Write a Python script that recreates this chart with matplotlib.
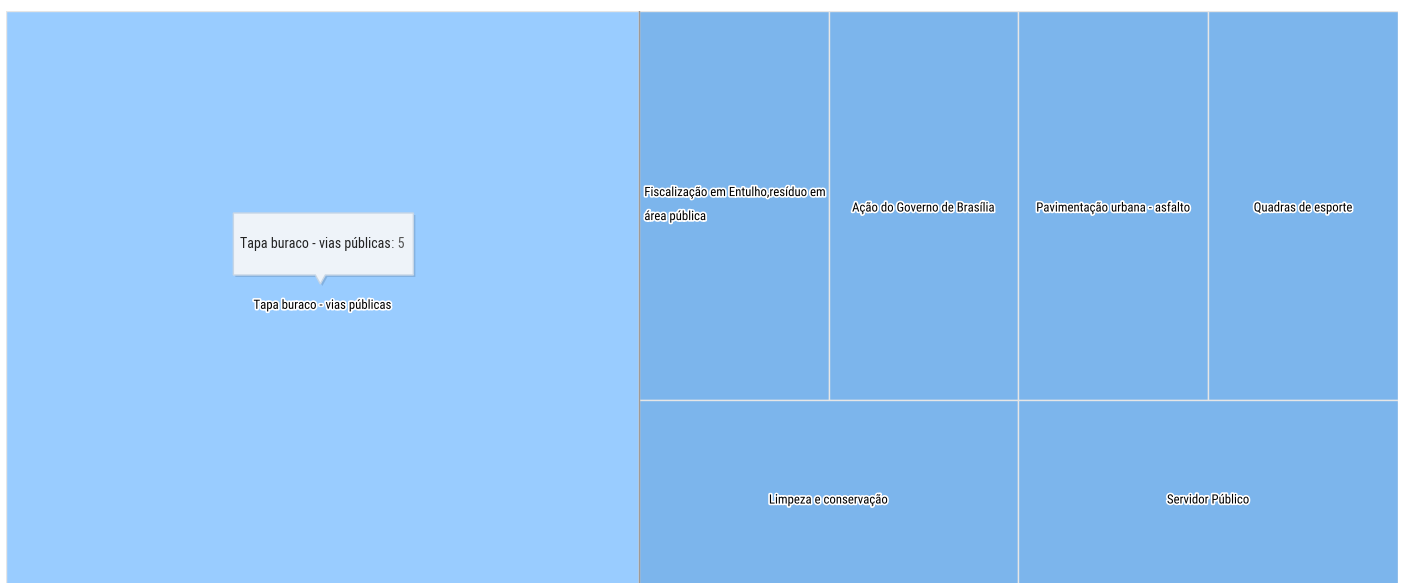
import matplotlib
matplotlib.use("Agg")
import matplotlib.pyplot as plt
import matplotlib.patheffects as pe
from matplotlib.patches import Rectangle, Polygon
from matplotlib.font_manager import fontManager, FontProperties

# data
names = [
    "Tapa buraco - vias públicas",
    "Fiscalização em Entulho,resíduo em\nárea pública",
    "Ação do Governo de Brasília",
    "Pavimentação urbana - asfalto",
    "Quadras de esporte",
    "Limpeza e conservação",
    "Servidor Público",
]
values = [5, 1, 1, 1, 1, 1, 1]
hovered = 0

# strips of the layout: which items, and whether the strip is a column or a row
groups = [([0], "col"), ([1, 2, 3, 4], "row"), ([5, 6], "row")]

base_color = "#7cb5ec"
hover_color = "#99ccff"

# the chart uses a narrow font; look for a condensed face
prefs = ["LiberationSansNarrow-Regular", "RobotoCondensed-Regular", "Roboto_Condensed-Regular",
         "DejaVuSansCondensed.ttf", "OpenSans_Condensed-Regular", "OpenSansCondensed"]
font_file = None
files = [f.fname for f in fontManager.ttflist]
for p in prefs:
    hits = [f for f in files if p.lower() in f.lower().replace(" ", "")]
    if hits:
        font_file = sorted(hits, key=len)[0]
        break
if font_file is None:
    hits = [f for f in files if ("condensed" in f.lower() or "narrow" in f.lower())
            and "bold" not in f.lower() and "italic" not in f.lower()
            and "oblique" not in f.lower() and "light" not in f.lower()]
    font_file = sorted(hits, key=len)[0] if hits else None


def fp(size):
    if font_file:
        return FontProperties(fname=font_file, size=size)
    return FontProperties(family="DejaVu Sans", size=size)


def layout(vals, groups, x, y, w, h):
    rects = {}
    left = sum(vals)
    for idx, kind in groups:
        s = sum(vals[i] for i in idx)
        last = s == left
        if kind == "col":
            gw = w if last else w * s / left
            cy = y
            for i in idx:
                ih = h * vals[i] / s
                rects[i] = (x, cy, gw, ih)
                cy += ih
            x += gw
            w -= gw
        else:
            gh = h if last else h * s / left
            cx = x
            for i in idx:
                iw = w * vals[i] / s
                rects[i] = (cx, y, iw, gh)
                cx += iw
            y += gh
            h -= gh
        left -= s
    return rects


W, H = 1402, 583
fig = plt.figure(figsize=(W / 100, H / 100), dpi=100)
fig.patch.set_facecolor("white")
# plot area runs a little past the bottom of the image
ax = fig.add_axes([6 / W, (H - 595) / H, 1392 / W, 584 / H])
ax.set_xlim(0, 1)
ax.set_ylim(1, 0)
ax.axis("off")

# size the labels so the first one is about as wide as in the chart (~137 px)
renderer = fig.canvas.get_renderer()
probe = fig.text(0, 0, names[0], fontproperties=fp(10))
pw = probe.get_window_extent(renderer).width
probe.remove()
lab_size = min(11.0, 10 * 137 / pw)
probe = fig.text(0, 0, names[0] + ": 5", fontproperties=fp(10))
pw = probe.get_window_extent(renderer).width
probe.remove()
tip_size = min(12.5, 10 * 163 / pw)

rects = layout(values, groups, 0, 0, 1, 1)
outline = [pe.withStroke(linewidth=2.4, foreground="white")]

for i, (x, y, w, h) in rects.items():
    col = hover_color if i == hovered else base_color
    ax.add_patch(Rectangle((x, y), w, h, facecolor=col, edgecolor="#e6e6e6", lw=1))
for i, (x, y, w, h) in rects.items():
    if i == hovered:
        ax.plot([x + w, x + w], [y, y + h], color="#a09a96", lw=1)
    if "\n" in names[i]:
        ax.text(x + 0.004, y + h / 2 - 0.002, names[i], ha="left", va="center",
                fontproperties=fp(lab_size), color="black", path_effects=outline,
                linespacing=2.1)
    else:
        ax.text(x + w / 2, y + h / 2 + 0.004, names[i], ha="center", va="center",
                fontproperties=fp(lab_size), color="black", path_effects=outline)

# tooltip over the hovered tile
x, y, w, h = rects[hovered]
cx, cy = ax.transData.transform((x + w / 2, y + h / 2))
tip_y = cy + 19
bw, bh = 180, 62
bx0, by0 = cx - 89, tip_y + 9
pts = [(bx0, by0), (cx - 7, by0), (cx - 2, tip_y), (cx + 3, by0), (bx0 + bw, by0),
       (bx0 + bw, by0 + bh), (bx0, by0 + bh)]
shadow = Polygon([(px + 2, py - 2) for px, py in pts], closed=True, transform=None,
                 facecolor="#5a7fa8", alpha=0.35, edgecolor="none")
fig.patches.append(shadow)
box = Polygon(pts, closed=True, transform=None, facecolor="#eef3f9",
              edgecolor="#c7d6e6", lw=1)
fig.patches.append(box)
t1 = fig.text((bx0 + 7) / W, (by0 + bh / 2) / H, names[hovered], ha="left", va="center",
              fontproperties=fp(tip_size), color="#222222")
bb = t1.get_window_extent(renderer)
fig.text(bb.x1 / W, (by0 + bh / 2) / H, ": %d" % values[hovered], ha="left", va="center",
         fontproperties=fp(tip_size), color="#555555")

fig.savefig("out.png", dpi=100)
